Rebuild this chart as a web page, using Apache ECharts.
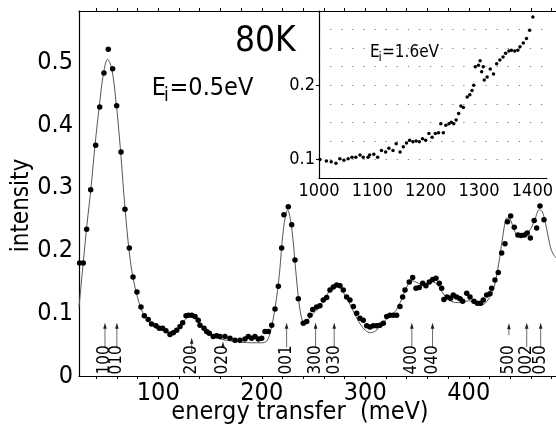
<!DOCTYPE html>
<html>
<head>
<meta charset="utf-8">
<script src="https://cdn.jsdelivr.net/npm/echarts@6/dist/echarts.min.js"></script>
<style>html,body{margin:0;padding:0;background:#fff;}#c{width:556px;height:435px;}</style>
</head>
<body>
<div id="c"></div>
<script>
// ---- main spectrum (Ei = 0.5 eV): measured points ----
const mainX = [24.0,27.5,30.8,34.7,39.5,43.4,47.5,51.7,55.9,59.8,64.0,67.8,72.0,75.6,79.4,83.3,86.5,90.3,93.6,97.8,101.0,104.2,107.4,111.3,114.5,117.8,121.0,123.6,126.8,129.0,132.3,135.5,138.6,140.3,144.2,146.8,149.3,153.1,156.4,159.6,164.4,169.3,174.1,178.9,183.8,187.0,190.2,193.4,196.6,199.9,203.1,206.3,209.6,212.8,216.0,219.2,221.4,225.6,228.9,232.1,235.3,240.1,243.4,246.6,249.2,253.0,256.2,259.4,262.7,265.9,269.1,272.4,275.6,278.8,282.0,285.2,288.5,291.7,294.9,298.1,301.4,304.5,307.7,311.0,314.2,317.4,320.7,323.9,327.1,330.3,333.5,336.1,338.4,342.5,345.8,349.0,352.2,355.5,358.6,361.9,365.1,368.3,371.5,373.8,376.0,379.2,382.5,385.0,388.3,391.5,394.1,398.0,401.2,405.0,408.3,411.5,414.0,417.3,420.5,422.1,425.3,428.5,431.8,435.0,437.4,440.5,444.0,447.5,450.7,453.9,456.5,459.5,463.2,465.6,468.8,472.7];
const mainY = [0.180,0.180,0.234,0.297,0.368,0.429,0.483,0.521,0.490,0.431,0.357,0.266,0.204,0.158,0.134,0.110,0.096,0.090,0.083,0.080,0.076,0.076,0.072,0.066,0.069,0.073,0.079,0.085,0.096,0.097,0.097,0.095,0.089,0.081,0.076,0.071,0.068,0.063,0.064,0.063,0.063,0.060,0.057,0.057,0.059,0.063,0.060,0.063,0.059,0.060,0.071,0.071,0.081,0.107,0.143,0.204,0.257,0.270,0.241,0.185,0.123,0.084,0.087,0.097,0.106,0.110,0.112,0.121,0.125,0.137,0.142,0.145,0.144,0.137,0.126,0.121,0.111,0.100,0.092,0.089,0.080,0.078,0.080,0.080,0.081,0.084,0.095,0.097,0.097,0.097,0.111,0.126,0.137,0.150,0.157,0.140,0.141,0.148,0.144,0.150,0.154,0.156,0.148,0.140,0.122,0.126,0.124,0.129,0.126,0.123,0.119,0.132,0.126,0.119,0.116,0.116,0.121,0.129,0.131,0.140,0.153,0.165,0.196,0.211,0.246,0.255,0.237,0.225,0.224,0.225,0.228,0.220,0.248,0.236,0.271,0.249];

// ---- fitted curve ----
const fitX = [23.4,27,31,35,39,43,47,51,55,59,63,67,71,75,80,85,90,95,100,105,110,115,120,125,130,135,140,145,150,160,170,180,190,200,205,209,213,217,221,225,229,233,237,241,245,250,255,260,265,270,275,280,285,290,295,300,305,310,315,320,325,330,335,340,345,350,355,360,365,370,375,380,385,390,395,400,405,410,415,420,425,430,434,437,440,444,448,452,456,460,464,468,471,474,477,480,484.3];
const fitY = [0.110,0.172,0.240,0.300,0.370,0.430,0.482,0.505,0.490,0.440,0.370,0.285,0.212,0.162,0.125,0.101,0.088,0.080,0.075,0.072,0.070,0.072,0.078,0.088,0.095,0.094,0.085,0.074,0.066,0.059,0.056,0.054,0.053,0.053,0.056,0.075,0.110,0.162,0.235,0.265,0.235,0.165,0.105,0.085,0.090,0.100,0.110,0.120,0.135,0.143,0.142,0.130,0.115,0.098,0.083,0.073,0.069,0.072,0.080,0.090,0.097,0.105,0.122,0.142,0.152,0.149,0.146,0.148,0.150,0.145,0.132,0.122,0.118,0.117,0.118,0.120,0.117,0.113,0.115,0.125,0.145,0.190,0.235,0.252,0.250,0.232,0.222,0.222,0.226,0.235,0.250,0.265,0.262,0.245,0.220,0.200,0.188];

// ---- inset spectrum (Ei = 1.6 eV) ----
const insetX = [1001.8,1013.8,1022.8,1031.8,1039.0,1046.8,1054.6,1061.8,1069.0,1076.9,1082.9,1091.9,1094.9,1102.7,1109.9,1117.1,1124.9,1131.0,1138.7,1144.7,1151.9,1158.0,1164.0,1170.0,1176.0,1182.0,1188.0,1194.0,1200.0,1206.0,1212.0,1218.0,1224.0,1228.3,1233.0,1237.8,1243.6,1248.0,1252.6,1257.0,1261.8,1266.0,1270.6,1277.8,1282.7,1286.8,1290.0,1292.9,1298.9,1302.0,1304.9,1307.9,1309.7,1315.1,1321.0,1327.1,1333.0,1339.0,1345.0,1349.8,1355.9,1360.6,1366.7,1372.6,1376.8,1382.9,1388.9,1394.8,1400.9];
const insetY = [0.100,0.098,0.097,0.095,0.101,0.099,0.101,0.103,0.103,0.106,0.103,0.103,0.106,0.107,0.103,0.112,0.110,0.115,0.112,0.121,0.110,0.117,0.122,0.126,0.124,0.125,0.124,0.128,0.126,0.135,0.130,0.135,0.136,0.148,0.136,0.146,0.148,0.150,0.148,0.153,0.162,0.172,0.170,0.184,0.187,0.193,0.200,0.225,0.227,0.233,0.218,0.225,0.207,0.211,0.222,0.215,0.229,0.234,0.238,0.243,0.246,0.247,0.246,0.247,0.252,0.257,0.263,0.274,0.292];

// ---- mode assignment arrows ----
const arrowLabels = ["100","010","200","020","001","300","030","400","040","500","002","050"];
const arrowX      = [48.5,60.0,132.3,162.5,224.0,252.0,270.0,345.0,365.0,438.8,456.0,469.5];
const arrowTip    = [0.085,0.085,0.061,0.055,0.085,0.085,0.085,0.085,0.085,0.084,0.085,0.085];
const arrowBase   = [0.046,0.046,0.038,0.047,0.046,0.046,0.046,0.046,0.046,0.065,0.046,0.046];

// ---- ticks / labels ----
const mainXTicks  = [40,60,80,100,120,140,160,180,200,220,240,260,280,300,320,340,360,380,400,420,440,460,480];
const mainXLabels = [100,200,300,400];
const mainYLabels = [0,0.1,0.2,0.3,0.4,0.5];
const insetXLabels = [1000,1100,1200,1300,1400];
const insetYLabels = [0.1,0.2];

const FF = '"Liberation Sans Narrow","DejaVu Sans Condensed","Liberation Sans",sans-serif';
const INK = '#000';

const chart = echarts.init(document.getElementById('c'), null, {renderer:'canvas'});

const option = {
  animation: false,
  backgroundColor: '#fff',
  grid: [
    {left: 79, top: 11, right: 0, bottom: 59, show: false},
    {left: 319, top: 11, right: 0, bottom: 257, show: true, backgroundColor: '#fff', borderWidth: 0, z: 5}
  ],
  xAxis: [
    {gridIndex: 0, type: 'value', position: 'bottom', min: 23.4, max: 484.3,
     axisLine: {show: true, onZero: false, lineStyle: {color: INK, width: 1.2}},
     axisTick: {show: true, customValues: mainXTicks, inside: false, length: 3, lineStyle: {color: INK, width: 1}},
     axisLabel: {show: true, customValues: mainXLabels, margin: 5, fontSize: 25, fontFamily: FF, color: INK},
     splitLine: {show: false}},
    {gridIndex: 0, type: 'value', position: 'top', min: 23.4, max: 484.3,
     axisLine: {show: true, onZero: false, lineStyle: {color: INK, width: 1.2}},
     axisTick: {show: true, customValues: mainXTicks, inside: false, length: 3, lineStyle: {color: INK, width: 1}},
     axisLabel: {show: false}, splitLine: {show: false}},
    {gridIndex: 1, type: 'value', position: 'bottom', min: 1000, max: 1427,
     axisLine: {show: true, onZero: false, lineStyle: {color: INK, width: 1.2}},
     axisTick: {show: false},
     axisLabel: {show: true, customValues: insetXLabels, margin: 4, fontSize: 18, fontFamily: FF, color: INK,
                 formatter: v => String(Math.round(v))},
     splitLine: {show: false}, z: 6},
    {gridIndex: 1, type: 'value', position: 'top', min: 1000, max: 1427,
     axisLine: {show: true, onZero: false, lineStyle: {color: INK, width: 1.2}},
     axisTick: {show: false}, axisLabel: {show: false}, splitLine: {show: false}, z: 6}
  ],
  yAxis: [
    {gridIndex: 0, type: 'value', min: 0, max: 0.582,
     axisLine: {show: true, onZero: false, lineStyle: {color: INK, width: 1.2}},
     axisTick: {show: false},
     axisLabel: {show: true, customValues: mainYLabels, margin: 6, fontSize: 25, fontFamily: FF, color: INK,
                 formatter: v => v === 0 ? '0' : v.toFixed(1)},
     splitLine: {show: false}},
    {gridIndex: 1, type: 'value', min: 0.075, max: 0.3,
     axisLine: {show: true, onZero: false, lineStyle: {color: INK, width: 1.2}},
     axisTick: {show: true, customValues: insetYLabels, length: 3, lineStyle: {color: INK}},
     axisLabel: {show: true, customValues: insetYLabels, margin: 4, fontSize: 18, fontFamily: FF, color: INK,
                 formatter: v => v.toFixed(1)},
     splitLine: {show: false}, z: 7},
    // dotted background grid of the inset
    {gridIndex: 1, type: 'value', min: 0.075, max: 0.3, interval: 0.025, position: 'left',
     axisLine: {show: false}, axisTick: {show: false}, axisLabel: {show: false},
     splitLine: {show: true, lineStyle: {color: '#777', width: 1, type: [1.2, 9.9]}}, z: 6}
  ],
  graphic: [
    {type: 'text', x: 235, y: 42, style: {text: '80K', font: '35px ' + FF, fill: INK, align: 'left', verticalAlign: 'middle'}},
    {type: 'text', x: 151.7, y: 88, style: {text: 'E', font: '25px ' + FF, fill: INK, align: 'left', verticalAlign: 'middle'}},
    {type: 'text', x: 164, y: 96, style: {text: 'i', font: '19px ' + FF, fill: INK, align: 'left', verticalAlign: 'middle'}},
    {type: 'text', x: 169.5, y: 88, style: {text: '=0.5eV', font: '25px ' + FF, fill: INK, align: 'left', verticalAlign: 'middle'}},
    {type: 'text', x: 370, y: 53, z: 100, style: {text: 'E', font: '17px ' + FF, fill: INK, align: 'left', verticalAlign: 'middle'}},
    {type: 'text', x: 378.5, y: 58, z: 100, style: {text: 'i', font: '13px ' + FF, fill: INK, align: 'left', verticalAlign: 'middle'}},
    {type: 'text', x: 382, y: 53, z: 100, style: {text: '=1.6eV', font: '17px ' + FF, fill: INK, align: 'left', verticalAlign: 'middle'}},
    {type: 'text', x: 22, y: 205.5, rotation: Math.PI / 2, style: {text: 'intensity', font: '24px ' + FF, fill: INK, align: 'center', verticalAlign: 'middle'}},
    {type: 'text', x: 300, y: 412, style: {text: 'energy transfer  (meV)', font: '25px ' + FF, fill: INK, align: 'center', verticalAlign: 'middle'}}
  ],
  series: [
    {type: 'line', xAxisIndex: 0, yAxisIndex: 0, smooth: 0.35, showSymbol: false, silent: true,
     data: fitX.map((x, i) => [x, fitY[i]]),
     lineStyle: {color: '#555', width: 1}, z: 2},
    {type: 'scatter', xAxisIndex: 0, yAxisIndex: 0, symbol: 'circle', symbolSize: 5.5,
     data: mainX.map((x, i) => [x, mainY[i]]),
     itemStyle: {color: INK, opacity: 1}, z: 3},
    {type: 'custom', xAxisIndex: 0, yAxisIndex: 0, clip: false, z: 4,
     data: arrowX.map((x, i) => [x, arrowTip[i], arrowBase[i]]),
     renderItem: function (params, api) {
       const i = params.dataIndex;
       const x = api.value(0);
       const tip = api.coord([x, api.value(1)]);
       const base = api.coord([x, api.value(2)]);
       const foot = api.coord([x, 0]);
       return {type: 'group', children: [
         {type: 'line', shape: {x1: tip[0], y1: tip[1] + 4, x2: base[0], y2: base[1]},
          style: {stroke: '#444', lineWidth: 0.8}},
         {type: 'polygon', shape: {points: [[tip[0], tip[1]], [tip[0] - 1.8, tip[1] + 6], [tip[0] + 1.8, tip[1] + 6]]},
          style: {fill: '#222'}},
         {type: 'text', x: foot[0], y: foot[1] - 1.5, rotation: Math.PI / 2,
          style: {text: arrowLabels[i], x: 0, y: 0, align: 'left', verticalAlign: 'middle', font: '17px ' + FF, fill: INK}}
       ]};
     }},
    {type: 'scatter', xAxisIndex: 2, yAxisIndex: 1, symbol: 'circle', symbolSize: 3.5,
     data: insetX.map((x, i) => [x, insetY[i]]),
     itemStyle: {color: INK, opacity: 1}, z: 10}
  ]
};
chart.setOption(option);
</script>
</body>
</html>
